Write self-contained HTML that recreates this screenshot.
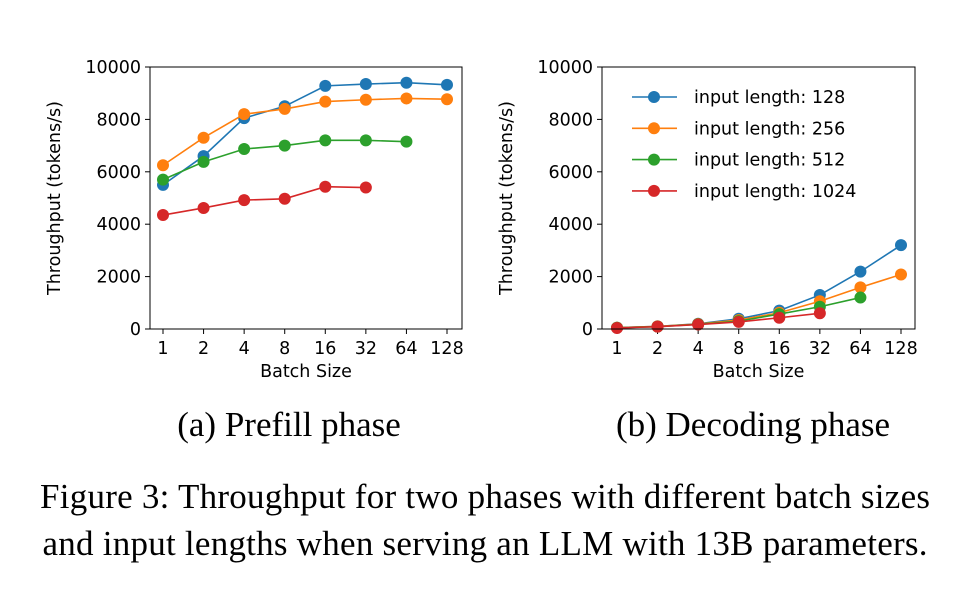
<!DOCTYPE html>
<html><head><meta charset="utf-8"><style>
html,body{margin:0;padding:0;background:#fff;width:970px;height:596px;overflow:hidden}
svg text{font-family:"DejaVu Sans","Liberation Sans",sans-serif}
.cap{font-family:"Liberation Serif",serif;fill:#000}
</style></head><body>
<svg id="fig" width="970" height="596" viewBox="0 0 970 596" xmlns="http://www.w3.org/2000/svg">
<text class="cap" x="289" y="436" font-size="35" text-anchor="middle">(a) Prefill phase</text>
<text class="cap" x="753" y="436" font-size="35" text-anchor="middle">(b) Decoding phase</text>
<text class="cap" x="485" y="508" font-size="35" text-anchor="middle" textLength="890">Figure 3: Throughput for two phases with different batch sizes</text>
<text class="cap" x="485" y="555" font-size="35" text-anchor="middle" textLength="885">and input lengths when serving an LLM with 13B parameters.</text>
</svg>
<script>
const categories=["1","2","4","8","16","32","64","128"];
const yTicks=[0,2000,4000,6000,8000,10000];
const seriesNames=["input length: 128","input length: 256","input length: 512","input length: 1024"];
const colors=["#1f77b4","#ff7f0e","#2ca02c","#d62728"];
const prefill128=[5500,6600,8050,8500,9280,9350,9400,9320];
const prefill256=[6250,7300,8200,8400,8680,8750,8800,8770];
const prefill512=[5700,6380,6870,7000,7200,7200,7150];
const prefill1024=[4350,4620,4920,4970,5430,5400];
const decode128=[50,100,200,390,700,1300,2190,3200];
const decode256=[50,100,190,340,620,1060,1590,2080];
const decode512=[50,90,180,300,570,850,1200];
const decode1024=[40,90,170,270,430,600];
const NS="http://www.w3.org/2000/svg";
const svg=document.getElementById('fig');
function mk(t,a,p){const e=document.createElementNS(NS,t);for(const k in a)e.setAttribute(k,a[k]);(p||svg).appendChild(e);return e;}
function panel(id,left,right,firstX,lastX,series,legend){
  const top=67,bot=329;
  const g=mk('g',{});
  
  
  const xs=i=>firstX+(lastX-firstX)*i/(categories.length-1);
  const ys=v=>bot-(bot-top)*v/10000;
  yTicks.forEach(v=>{
    mk('line',{x1:left-5,x2:left,y1:ys(v),y2:ys(v),stroke:'#000','stroke-width':1},g);
    const t=mk('text',{x:left-9,y:ys(v)+6,'font-size':17.5,'text-anchor':'end',fill:'#000'},g);
    t.textContent=v;
    
    
  });
  categories.forEach((c,i)=>{
    mk('line',{x1:xs(i),x2:xs(i),y1:bot,y2:bot+5,stroke:'#000','stroke-width':1},g);
    const t=mk('text',{x:xs(i),y:bot+25,'font-size':17.5,'text-anchor':'middle',fill:'#000'},g);
    t.textContent=c;
    
    
  });
  const xt=mk('text',{x:(left+right)/2,y:bot+48,'font-size':17.5,'text-anchor':'middle',fill:'#000'},g);
  xt.textContent='Batch Size';
  
  
  const yt=mk('text',{x:0,y:0,'font-size':17.5,'text-anchor':'middle',fill:'#000',transform:`translate(${left-90},${(top+bot)/2}) rotate(-90)`},g);
  yt.textContent='Throughput (tokens/s)';
  
  
  series.forEach((s,k)=>{
    const pts=s.map((v,i)=>xs(i)+','+ys(v)).join(' ');
    const l=mk('polyline',{points:pts,fill:'none',stroke:colors[k],'stroke-width':1.6},g);
    
    
    s.forEach((v,i)=>{
      const c=mk('circle',{cx:xs(i),cy:ys(v),r:6,fill:colors[k]},g);
      
      
    });
  });
  mk('rect',{x:left,y:top,width:right-left,height:bot-top,fill:'none',stroke:'#000','stroke-width':1},g);
  if(legend){
    seriesNames.forEach((n,k)=>{
      const y=97+k*31.3;
      const le=mk('g',{},g);
      
      
      mk('line',{x1:632,x2:677,y1:y,y2:y,stroke:colors[k],'stroke-width':1.6},le);
      mk('circle',{cx:654,cy:y,r:6,fill:colors[k]},le);
      const t=mk('text',{x:694,y:y+6,'font-size':17.5,fill:'#000'},le);
      t.textContent=n;
    });
  }
}
panel('prefill-chart',150,462,163,447,[prefill128,prefill256,prefill512,prefill1024],false);
panel('decoding-chart',602,915,617,901,[decode128,decode256,decode512,decode1024],true);
</script>
</body></html>
